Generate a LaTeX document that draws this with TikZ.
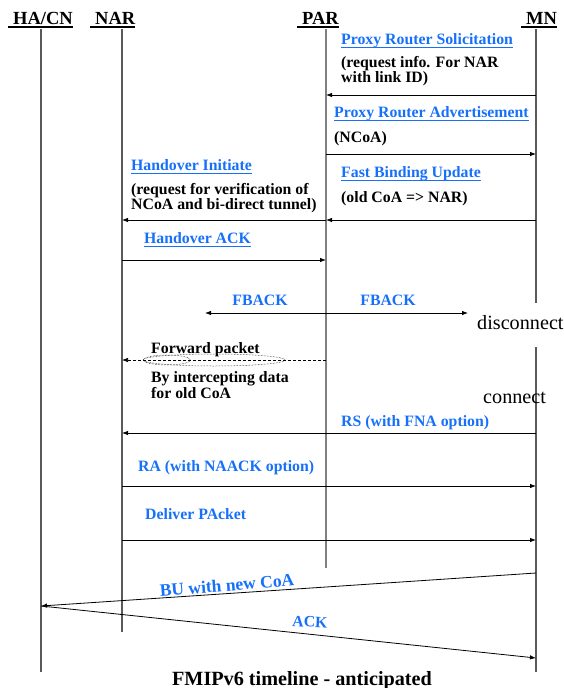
\documentclass[tikz,border=0pt]{standalone}
\usepackage{fontspec}
\setmainfont{Liberation Serif}
\usetikzlibrary{arrows.meta}
\definecolor{linkblue}{RGB}{22,112,250}
\definecolor{lifegray}{RGB}{90,90,90}
\tikzset{
  x=1pt,y=-1pt,
  hdr/.style={font=\fontsize{18.5}{20}\selectfont\bfseries, inner sep=0pt, anchor=base west},
  lbl/.style={font=\fontsize{15.8}{15}\selectfont\bfseries, inner sep=0pt, anchor=base west},
  blbl/.style={lbl, text=linkblue},
  plain/.style={font=\fontsize{20.2}{20}\selectfont, inner sep=0pt, anchor=base west},
  life/.style={draw=lifegray, line width=1.1pt},
  msg/.style={draw=black, line width=0.8pt, -{Latex[length=6pt,width=4.5pt]}},
  ul/.style={draw=linkblue, line width=1pt},
  hul/.style={draw=black, line width=1.4pt},
}
\begin{document}
\begin{tikzpicture}
\useasboundingbox (0,0) rectangle (564,688);
% headers
\node[hdr] (hHA) at (13,24) {HA/CN};
\node[hdr] (hNAR) at (95,24) {NAR};
\node[hdr] (hPAR) at (302,24) {PAR};
\node[hdr] (hMN) at (526,24) {MN};
\foreach \n in {hHA,hNAR,hPAR,hMN}
  \draw[hul] ([xshift=-5pt,yshift=-3pt]\n.base west) -- ([yshift=-3pt]\n.base east);
% lifeline coordinates
\coordinate (HAt) at (41,29);  \coordinate (HAb) at (41,672);
\coordinate (NARt) at (122,29); \coordinate (NARb) at (122,632);
\coordinate (PARt) at (326,29); \coordinate (PARb) at (326,568);
\coordinate (MNt) at (536,29); \coordinate (MNm1) at (536,303);
\coordinate (MNm2) at (536,347); \coordinate (MNb) at (536,672);
\draw[life] (HAt) -- (HAb);
\draw[life] (NARt) -- (NARb);
\draw[life, line width=1.6pt, draw=gray] (PARt) -- (PARb);
\draw[life] (MNt) -- (MNm1);
\draw[life] (MNm2) -- (MNb);
% message endpoints
\coordinate (m1s) at (536,95);  \coordinate (m1e) at (326,95);
\coordinate (m2s) at (326,154); \coordinate (m2e) at (536,154);
\coordinate (m3s) at (326,220); \coordinate (m3e) at (122,220);
\coordinate (m4s) at (536,220); \coordinate (m4e) at (326,220);
\coordinate (m5s) at (122,260); \coordinate (m5e) at (326,260);
\coordinate (m6s) at (205,313); \coordinate (m6e) at (468,313);
\coordinate (m7s) at (326,360); \coordinate (m7e) at (122,360);
\coordinate (m8s) at (536,433); \coordinate (m8e) at (122,433);
\coordinate (m9s) at (122,486); \coordinate (m9e) at (536,486);
\coordinate (m10s) at (122,540); \coordinate (m10e) at (536,540);
\coordinate (m11s) at (536,573); \coordinate (m11e) at (41,606);
\coordinate (m12e) at (536,658);
\draw[msg] (m1s) -- (m1e);
\draw[msg] (m2s) -- (m2e);
\draw[msg] (m3s) -- (m3e);
\draw[msg] (m4s) -- (m4e);
\draw[msg] (m5s) -- (m5e);
\draw[msg, {Latex[length=6pt,width=4.5pt]}-{Latex[length=6pt,width=4.5pt]}] (m6s) -- (m6e);
\draw[msg, dashed, dash pattern=on 3pt off 2pt, line width=0.6pt] (m7s) -- (m7e);
\draw[msg] (m8s) -- (m8e);
\draw[msg] (m9s) -- (m9e);
\draw[msg] (m10s) -- (m10e);
\draw[msg] (m11s) -- (m11e);
\draw[msg] (m11e) -- (m12e);
% labels
\node[blbl] (t1) at (341,44) {Proxy Router Solicitation};
\node[lbl] (t1a) at (341,67) {(request info. For NAR};
\node[lbl] (t1b) at (341,82) {with link ID)};
\node[blbl] (t2) at (334,117) {Proxy Router Advertisement};
\node[lbl] (t2a) at (334,142) {(NCoA)};
\node[blbl] (t3) at (131,170) {Handover Initiate};
\node[lbl] (t3a) at (131,194) {(request for verification of};
\node[lbl] (t3b) at (131,209) {NCoA and bi-direct tunnel)};
\node[blbl] (t4) at (341,177) {Fast Binding Update};
\node[lbl] (t4a) at (341,202) {(old CoA => NAR)};
\node[blbl] (t5) at (144,243) {Handover ACK};
\foreach \n in {t1,t2,t3,t4,t5}
  \draw[ul] ([yshift=-3pt]\n.base west) -- ([yshift=-3pt]\n.base east);
\node[blbl, anchor=base] (f1) at (260,305) {FBACK};
\node[blbl, anchor=base] (f2) at (388,305) {FBACK};
\node[plain] (disc) at (477,329) {disconnect};
\node[lbl] (fw) at (151,353) {Forward packet};
\node[lbl] (fw2) at (151,382) {By intercepting data};
\node[lbl] (fw3) at (151,398) {for old CoA};
\draw[densely dotted, line width=0.5pt] (214,360) ellipse [x radius=71, y radius=6];
\draw[densely dotted, line width=0.5pt] (167,360) ellipse [x radius=23.5, y radius=5];
\node[plain] (conn) at (483,403) {connect};
\node[blbl] (rs) at (341,426) {RS (with FNA option)};
\node[blbl] (ra) at (138,471) {RA (with NAACK option)};
\node[blbl] (dp) at (145,519) {Deliver PAcket};
\node[blbl, font=\fontsize{17.5}{18}\selectfont\bfseries, anchor=center, rotate=4.5] (bu) at (227,585) {BU with new CoA};
\node[blbl, anchor=center, rotate=-3] (ack) at (310,622) {ACK};
\node[font=\fontsize{20.2}{20}\selectfont\bfseries, inner sep=0pt, anchor=base] (cap) at (302,685) {FMIPv6 timeline - anticipated};
\end{tikzpicture}
\end{document}
